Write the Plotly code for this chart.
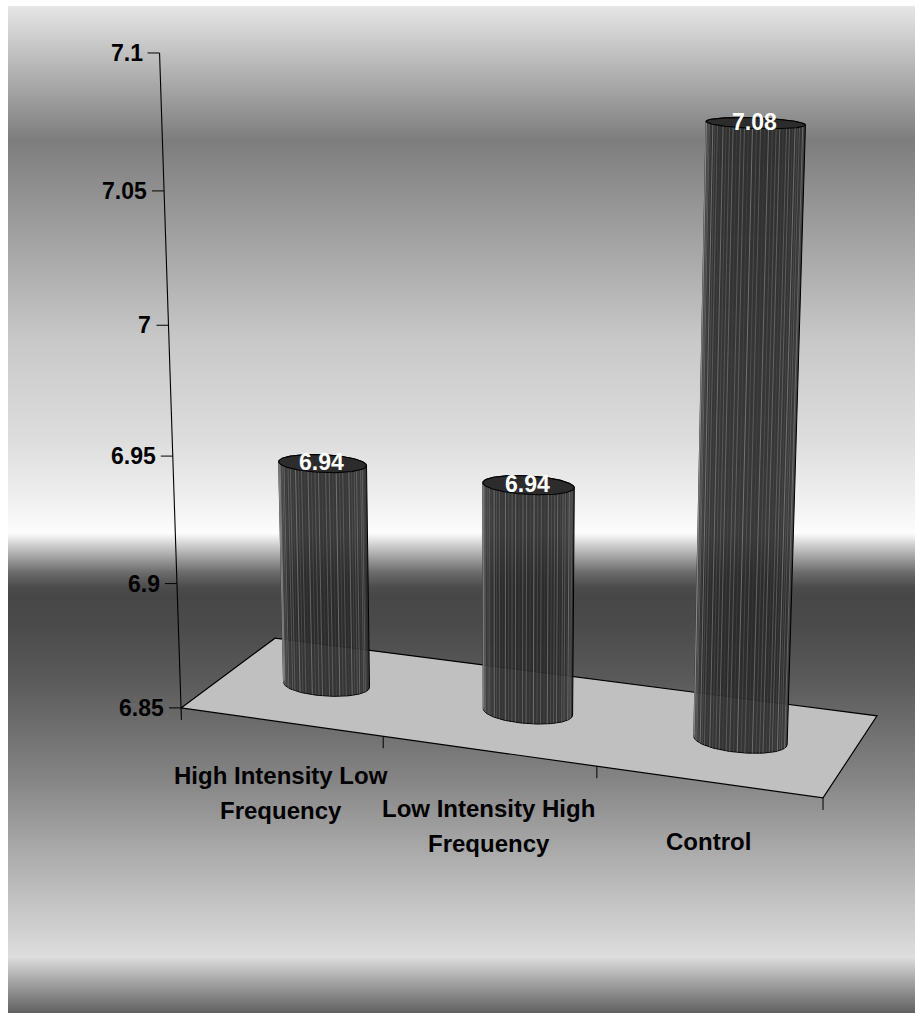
import numpy as np
import plotly.graph_objects as go

# ---------------- chart content ----------------
CATEGORY_LINES = [
    ["High Intensity Low", "Frequency"],
    ["Low Intensity High", "Frequency"],
    ["Control"],
]
VALUES = [6.94, 6.94, 7.08]
VALUE_LABELS = ["6.94", "6.94", "7.08"]
VALUE_TICKS = [6.85, 6.9, 6.95, 7.0, 7.05, 7.1]
TICK_TEXT = ["6.85", "6.9", "6.95", "7", "7.05", "7.1"]

# ---------------- page / frame geometry ----------------
W, H = 915, 1013
FONT = "Liberation Sans, Arial, Helvetica, sans-serif"

# The 3-D frame: x = category slot (0..3), y = depth (0 front, 1 back), z = value.
# Screen positions of the floor corners, category ticks and value ticks pin the
# perspective camera; everything else is projected through it.
Z0 = VALUE_TICKS[0]
N_CAT = len(VALUES)
FLOOR_WORLD = [(0, 0, Z0), (0, 1, Z0), (N_CAT, 1, Z0), (N_CAT, 0, Z0), (1, 0, Z0), (2, 0, Z0)]
FLOOR_SCREEN = [(181, 708), (275, 638), (877, 716), (823, 798), (383, 736), (597, 766)]
AXIS_SCREEN = [(181, 708), (177, 584), (173, 456), (169, 325), (163, 191), (160, 53)]

CYL_RX, CYL_RY = 0.21, 0.14        # cylinder radius along category / depth
TICK_LEN = 12

# background "chrome" gradient: (page row, grey level)
GRADIENT_STOPS = [
    (6, 230), (140, 125), (340, 200), (440, 221), (507, 242), (533, 253),
    (547, 200), (560, 152), (573, 106), (587, 76), (595, 71), (623, 74),
    (680, 90), (780, 133), (847, 168), (913, 200), (957, 221), (980, 168), (1013, 96),
]
BG_LEFT, BG_TOP = 8, 6


def fit_camera(world, screen):
    Wp = np.asarray(world, float)
    Ip = np.asarray(screen, float)
    wm, ws = Wp.mean(0), Wp.std(0)
    ws[ws == 0] = 1.0
    im = Ip.mean(0)
    isc = np.sqrt(((Ip - im) ** 2).sum(1).mean() / 2)
    Tw = np.eye(4)
    Tw[:3, :3] = np.diag(1 / ws)
    Tw[:3, 3] = -wm / ws
    Ti = np.eye(3)
    Ti[:2, :2] = np.diag([1 / isc, 1 / isc])
    Ti[:2, 2] = -im / isc
    Wn = (Tw @ np.c_[Wp, np.ones(len(Wp))].T).T
    In = (Ti @ np.c_[Ip, np.ones(len(Ip))].T).T
    rows = []
    for Xh, (u, v, _) in zip(Wn, In):
        rows.append(np.r_[Xh, np.zeros(4), -u * Xh])
        rows.append(np.r_[np.zeros(4), Xh, -v * Xh])
    _, _, Vt = np.linalg.svd(np.array(rows))
    Pn = Vt[-1].reshape(3, 4)
    return np.linalg.inv(Ti) @ Pn @ Tw


CAM = fit_camera(FLOOR_WORLD + [(0, 0, t) for t in VALUE_TICKS],
                 FLOOR_SCREEN + AXIS_SCREEN)


def project(x, y, z):
    x, y, z = np.broadcast_arrays(np.asarray(x, float), np.asarray(y, float), np.asarray(z, float))
    p = CAM @ np.vstack([x.ravel(), y.ravel(), z.ravel(), np.ones(x.size)])
    return p[0] / p[2], p[1] / p[2]


def convex_hull(xs, ys):
    pts = sorted(set(zip(np.round(xs, 3), np.round(ys, 3))))

    def cross(o, a, b):
        return (a[0] - o[0]) * (b[1] - o[1]) - (a[1] - o[1]) * (b[0] - o[0])

    lower, upper = [], []
    for p in pts:
        while len(lower) >= 2 and cross(lower[-2], lower[-1], p) <= 0:
            lower.pop()
        lower.append(p)
    for p in reversed(pts):
        while len(upper) >= 2 and cross(upper[-2], upper[-1], p) <= 0:
            upper.pop()
        upper.append(p)
    h = lower[:-1] + upper[:-1]
    h.append(h[0])
    return [p[0] for p in h], [p[1] for p in h]


fig = go.Figure()

# ---- background gradient ----
rows = np.arange(BG_TOP, H + 1)
sy, sg = zip(*GRADIENT_STOPS)
grey = np.interp(rows[:-1] + 0.5, sy, sg)
fig.add_trace(go.Heatmap(
    x=[BG_LEFT, W], y=rows, z=grey[:, None], zmin=0, zmax=255,
    colorscale=[[0, "rgb(0,0,0)"], [1, "rgb(255,255,255)"]],
    showscale=False, hoverinfo="skip", zsmooth=False,
))


def add_line(xs, ys, color="black", width=1.0, fill=None, fillcolor=None):
    fig.add_trace(go.Scatter(
        x=list(xs), y=list(ys), mode="lines", fill=fill, fillcolor=fillcolor,
        line=dict(color=color, width=width), hoverinfo="skip", showlegend=False,
    ))


# ---- floor ----
fx, fy = project([0, 0, N_CAT, N_CAT, 0], [0, 1, 1, 0, 0], Z0)
add_line(fx, fy, width=1.2, fill="toself", fillcolor="#c0c0c0")

# ---- category ticks along the front edge ----
for k in range(1, N_CAT + 1):
    tx, ty = project(k, 0, Z0)
    add_line([tx[0], tx[0]], [ty[0], ty[0] + TICK_LEN], width=1)

# ---- value axis ----
ax_x, ax_y = project(0, 0, VALUE_TICKS)
dx, dy = ax_x[0] - ax_x[-1], ax_y[0] - ax_y[-1]
n = np.hypot(dx, dy)
add_line([ax_x[-1], ax_x[0] + dx / n * TICK_LEN], [ax_y[-1], ax_y[0] + dy / n * TICK_LEN], width=1.1)
for x0, y0, txt in zip(ax_x, ax_y, TICK_TEXT):
    add_line([x0 - TICK_LEN, x0], [y0, y0], width=1)
    fig.add_annotation(x=x0 - TICK_LEN - 3, y=y0, text=txt, showarrow=False,
                       xanchor="right", yanchor="middle",
                       font=dict(family=FONT, size=23, color="black", weight="bold"))

# ---- cylinders ----
theta = np.linspace(0, 2 * np.pi, 241)
STRIPE_ALPHA = [0.35, 0.12, 0.5, 0.2, 0.3, 0.08, 0.45, 0.18, 0.28, 0.4, 0.1, 0.33]
stripe_theta = np.linspace(np.pi, 2 * np.pi, 40)[1:-1]

for i, (val, lab) in enumerate(zip(VALUES, VALUE_LABELS)):
    cx, cy = i + 0.5, 0.5
    ex = cx + CYL_RX * np.cos(theta)
    ey = cy + CYL_RY * np.sin(theta)
    bx, by = project(ex, ey, Z0)
    tx, ty = project(ex, ey, val)
    hx, hy = convex_hull(np.r_[bx, tx], np.r_[by, ty])
    add_line(hx, hy, width=1, fill="toself", fillcolor="rgba(42,42,42,0.93)")

    sx = cx + CYL_RX * np.cos(stripe_theta)
    sy_ = cy + CYL_RY * np.sin(stripe_theta)
    s_bx, s_by = project(sx, sy_, Z0)
    s_tx, s_ty = project(sx, sy_, val)
    groups = {}
    for j in range(len(stripe_theta)):
        a = STRIPE_ALPHA[(j + 3 * i) % len(STRIPE_ALPHA)]
        g = groups.setdefault(a, ([], []))
        g[0].extend([s_bx[j], s_tx[j], None])
        g[1].extend([s_by[j], s_ty[j], None])
    for a, (gx, gy) in groups.items():
        add_line(gx, gy, color=f"rgba(175,175,175,{a})", width=1)

    add_line(tx, ty, width=1.1, fill="toself", fillcolor="#2c2c2c")

    lx, ly = project(cx, cy, val)
    fig.add_annotation(x=lx[0] - 1, y=ly[0] - 1, text=lab, showarrow=False,
                       xanchor="center", yanchor="middle",
                       font=dict(family=FONT, size=23, color="white", weight="bold"))

# ---- category labels ----
for i, lines in enumerate(CATEGORY_LINES):
    ex_, ey_ = project(i + 0.5, 0, Z0)
    for k, line in enumerate(lines):
        fig.add_annotation(x=ex_[0], y=ey_[0] + 54 + 35 * k + 3 * i, text=line, showarrow=False,
                           xanchor="center", yanchor="middle",
                           font=dict(family=FONT, size=24, color="black", weight="bold"))

fig.update_layout(
    width=W, height=H, margin=dict(l=0, r=0, t=0, b=0),
    paper_bgcolor="white", plot_bgcolor="white", showlegend=False,
    xaxis=dict(range=[0, W], visible=False, fixedrange=True),
    yaxis=dict(range=[H, 0], visible=False, fixedrange=True),
)
fig.write_html("out.html")
